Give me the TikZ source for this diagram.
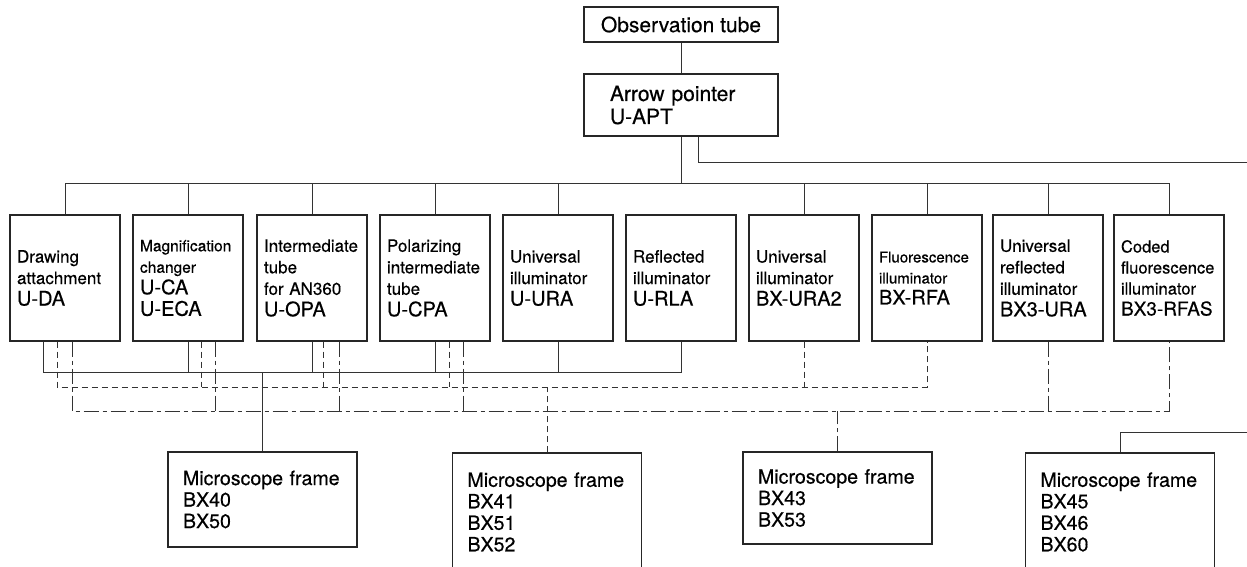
\documentclass[tikz,border=0pt]{standalone}
\usepackage{fontspec}
\setmainfont{TeX Gyre Heros}[FakeBold=0.4]
\newcommand{\partno}[1]{{\fontsize{20}{21.5}\selectfont #1}}
\tikzset{
  unitbox/.style={draw=black!85, line width=1.3pt, minimum width=110pt, minimum height=126pt,
    inner xsep=7pt, text width=96pt, align=left, font=\fontsize{17}{21.5}\selectfont},
  framebox/.style={draw=black!85, line width=1.3pt, minimum width=189pt,
    inner xsep=15pt, text width=159pt, align=left, font=\fontsize{19.6}{21.5}\selectfont},
  topbox/.style={draw=black!85, line width=1.3pt, minimum width=194pt, font=\fontsize{21}{23}\selectfont},
  conn/.style={draw=black!80, line width=1pt},
  dashconn/.style={conn, dash pattern=on 6pt off 4pt},
  dotconn/.style={conn, dash pattern=on 15pt off 4pt on 4pt off 4pt},
}
\begin{document}
\begin{tikzpicture}[x=1pt,y=-1pt]
\useasboundingbox (0,0) rectangle (1247,566);
\clip (0,0) rectangle (1247,566);

% Observation tube and arrow pointer
\node[topbox, minimum height=35pt] (obs) at (681,24.5) {Observation tube};
\node[topbox, minimum height=62pt, inner xsep=26pt, text width=142pt, align=left] (apt) at (681,105) {Arrow pointer\\U-APT};

% Intermediate attachments
\node[unitbox] (da) at (65,278) {Drawing\\attachment\\\partno{U-DA}};
\node[unitbox, font=\fontsize{15.5}{21.5}\selectfont] (ca) at (188,278) {Magnification\\changer\\\partno{U-CA}\\\partno{U-ECA}};
\node[unitbox] (opa) at (312,278) {Intermediate\\tube\\for AN360\\\partno{U-OPA}};
\node[unitbox] (cpa) at (435,278) {Polarizing\\intermediate\\tube\\\partno{U-CPA}};
\node[unitbox] (ura) at (558,278) {Universal\\illuminator\\\partno{U-URA}};
\node[unitbox] (rla) at (681,278) {Reflected\\illuminator\\\partno{U-RLA}};
\node[unitbox] (ura2) at (804,278) {Universal\\illuminator\\\partno{BX-URA2}};
\node[unitbox, font=\fontsize{15}{21}\selectfont] (rfa) at (927,278) {Fluorescence\\illuminator\\\partno{BX-RFA}};
\node[unitbox] (bxura) at (1048,278) {Universal\\reflected\\illuminator\\\partno{BX3-URA}};
\node[unitbox, font=\fontsize{16.5}{21}\selectfont] (rfas) at (1169,278) {Coded\\fluorescence\\illuminator\\{\fontsize{19}{21}\selectfont BX3-RFAS}};

% Microscope frames
\node[framebox, minimum height=95pt] (bx40) at (262.5,499.5) {Microscope frame\\BX40\\BX50};
\node[framebox, minimum height=118pt] (bx41) at (547,512) {Microscope frame\\BX41\\BX51\\BX52};
\node[framebox, minimum height=92pt] (bx43) at (837.5,498) {Microscope frame\\BX43\\BX53};
\node[framebox, minimum height=118pt] (bx45) at (1120,512) {Microscope frame\\BX45\\BX46\\BX60};

% Bus levels and edge points
\coordinate (topbus) at (0,183);
\coordinate (solidbus) at (0,372);
\coordinate (dashbus) at (0,387);
\coordinate (dotbus) at (0,411);
\coordinate (sideexit) at (1247,162);
\coordinate (sideentry) at (1247,432);
\coordinate (da-s) at ([xshift=-22pt]da.south);
\coordinate (da-d) at ([xshift=-8pt]da.south);
\coordinate (da-dd) at ([xshift=7pt]da.south);
\coordinate (ca-d) at ([xshift=13pt]ca.south);
\coordinate (ca-dd) at ([xshift=27pt]ca.south);
\coordinate (opa-d) at ([xshift=11pt]opa.south);
\coordinate (opa-dd) at ([xshift=27pt]opa.south);
\coordinate (cpa-d) at ([xshift=14pt]cpa.south);
\coordinate (cpa-dd) at ([xshift=28pt]cpa.south);

% Upper tree
\draw[conn] (obs) -- (apt);
\draw[conn] (apt.south) -- (apt.south |- topbus);
\draw[conn] ([xshift=17pt]apt.south) |- (sideexit);
\draw[conn] (da.north) |- (topbus -| rfas.north) -- (rfas.north);
\draw[conn] (ca.north) -- (ca.north |- topbus);
\draw[conn] (opa.north) -- (opa.north |- topbus);
\draw[conn] (cpa.north) -- (cpa.north |- topbus);
\draw[conn] (ura.north) -- (ura.north |- topbus);
\draw[conn] (ura2.north) -- (ura2.north |- topbus);
\draw[conn] (rfa.north) -- (rfa.north |- topbus);
\draw[conn] (bxura.north) -- (bxura.north |- topbus);

% Solid links to BX40/BX50
\draw[conn] (da-s) |- (solidbus -| rla.south) -- (rla.south);
\draw[conn] (ca.south) -- (ca.south |- solidbus);
\draw[conn] (opa.south) -- (opa.south |- solidbus);
\draw[conn] (cpa.south) -- (cpa.south |- solidbus);
\draw[conn] (ura.south) -- (ura.south |- solidbus);
\draw[conn] (bx40.north) -- (bx40.north |- solidbus);

% Dashed links to BX41/BX51/BX52
\draw[dashconn] (da-d) |- (dashbus -| rfa.south) -- (rfa.south);
\draw[dashconn] (ca-d) -- (ca-d |- dashbus);
\draw[dashconn] (opa-d) -- (opa-d |- dashbus);
\draw[dashconn] (cpa-d) -- (cpa-d |- dashbus);
\draw[dashconn] (ura2.south) -- (ura2.south |- dashbus);
\draw[dashconn] (bx41.north) -- (bx41.north |- dashbus);

% Dash-dot links to BX43/BX53
\draw[dotconn] (da-dd) |- (dotbus -| rfas.south) -- (rfas.south);
\draw[dotconn] (ca-dd) -- (ca-dd |- dotbus);
\draw[dotconn] (opa-dd) -- (opa-dd |- dotbus);
\draw[dotconn] (cpa-dd) -- (cpa-dd |- dotbus);
\draw[dotconn] (bxura.south) -- (bxura.south |- dotbus);
\draw[dotconn] (bx43.north) -- (bx43.north |- dotbus);

% BX45 frame fed from the right
\draw[conn] (sideentry) -| (bx45.north);
\end{tikzpicture}
\end{document}
